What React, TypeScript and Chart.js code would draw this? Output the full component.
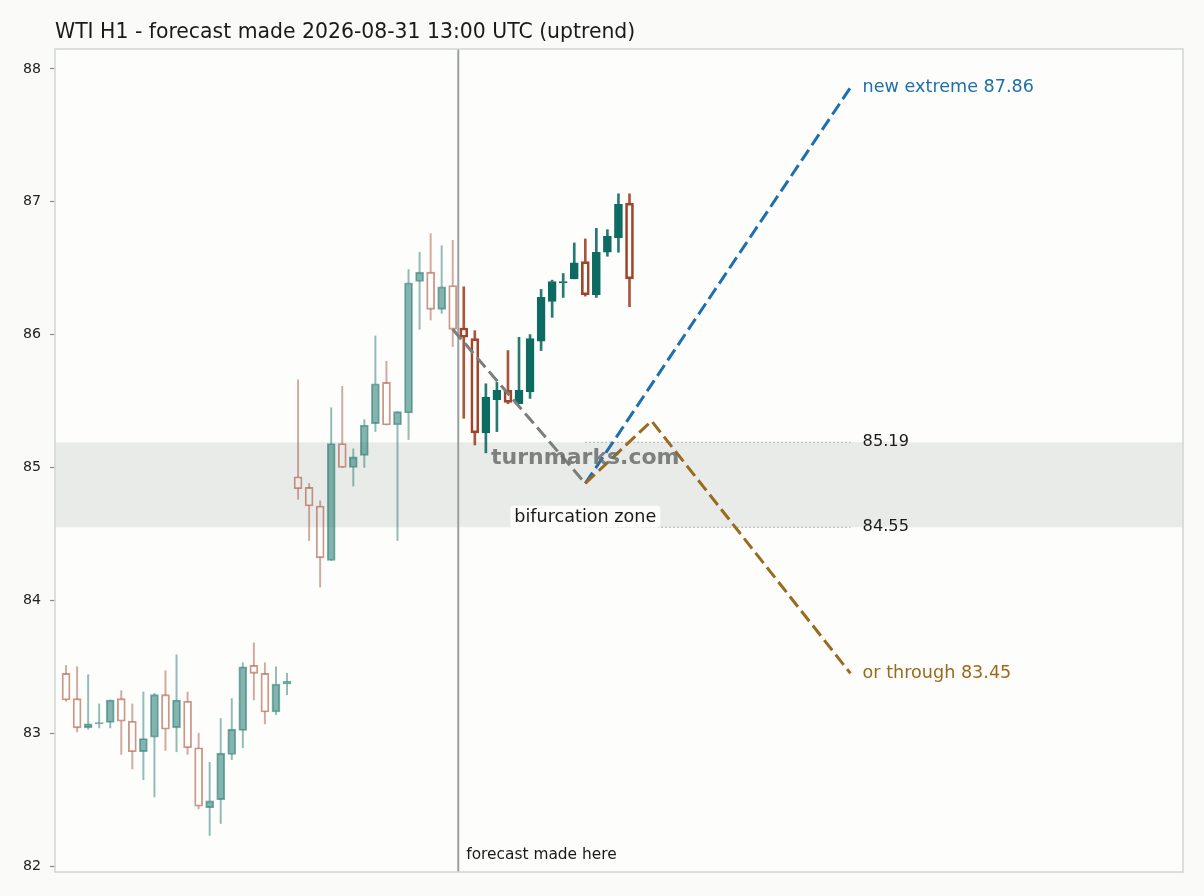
import React, { useEffect, useRef } from 'react';
import { Chart, registerables } from 'chart.js';

Chart.register(...registerables);

const FONT = '"DejaVu Sans", Verdana, sans-serif';

// WTI hourly candles, oldest first (index = bar number)
const candleOpen = [
  83.45, 83.26, 83.04, 83.07, 83.08, 83.26, 83.09, 82.86, 82.97, 83.29,
  83.04, 83.24, 82.89, 82.44, 82.5, 82.84, 83.02, 83.51, 83.45, 83.16,
  83.37, 84.93, 84.85, 84.71, 84.3, 85.18, 85.0, 85.09, 85.33, 85.64,
  85.32, 85.41, 86.4, 86.47, 86.19, 86.37, 86.05, 85.97, 85.26, 85.51,
  85.58, 85.48, 85.57, 85.95, 86.25, 86.39, 86.42, 86.55, 86.3, 86.62,
  86.73, 86.99,
];
const candleHigh = [
  83.51, 83.5, 83.44, 83.22, 83.25, 83.32, 83.22, 83.31, 83.3, 83.47,
  83.59, 83.31, 83.0, 82.78, 83.11, 83.26, 83.53, 83.68, 83.53, 83.5,
  83.45, 85.66, 84.88, 84.75, 85.45, 85.61, 85.14, 85.36, 85.99, 85.8,
  85.42, 86.49, 86.62, 86.76, 86.67, 86.71, 86.36, 86.03, 85.63, 85.64,
  85.88, 85.98, 86.0, 86.34, 86.41, 86.46, 86.69, 86.72, 86.8, 86.79,
  87.06, 87.06,
];
const candleLow = [
  83.24, 83.01, 83.03, 83.04, 83.04, 82.84, 82.73, 82.65, 82.52, 82.87,
  82.86, 82.84, 82.43, 82.23, 82.32, 82.8, 82.89, 83.25, 83.07, 83.14,
  83.29, 84.76, 84.45, 84.1, 84.3, 85.0, 84.86, 85.0, 85.27, 85.32,
  84.45, 85.21, 86.04, 86.11, 86.16, 85.91, 85.37, 85.17, 85.11, 85.27,
  85.48, 85.48, 85.52, 85.88, 86.13, 86.28, 86.42, 86.29, 86.28, 86.59,
  86.62, 86.21,
];
const candleClose = [
  83.25, 83.04, 83.07, 83.08, 83.25, 83.09, 82.86, 82.96, 83.29, 83.03,
  83.25, 82.89, 82.45, 82.49, 82.85, 83.03, 83.5, 83.45, 83.16, 83.37,
  83.39, 84.84, 84.71, 84.32, 85.18, 85.0, 85.08, 85.32, 85.63, 85.32,
  85.42, 86.39, 86.47, 86.19, 86.36, 86.04, 85.98, 85.26, 85.53, 85.58,
  85.49, 85.58, 85.97, 86.28, 86.4, 86.4, 86.54, 86.3, 86.62, 86.74,
  86.98, 86.42,
];

const forecastAt = 35.5; // bar position of the "forecast made here" line
const firstLiveBar = 36; // candles after the forecast are drawn solid

// forecast paths
const approachX = [35, 47];
const approachY = [86.04, 84.88];
const upX = [47, 71];
const upY = [84.88, 87.86];
const downX = [47, 53, 71];
const downY = [84.88, 85.35, 83.45];

const zoneHigh = 85.19;
const zoneLow = 84.55;
const zoneFrom = 47;
const zoneTo = 71;

const yTicks = [82, 83, 84, 85, 86, 87, 88];

const TEAL = [13, 107, 98];
const RED = [160, 68, 42];
const BLUE = '#1f6fae';
const BROWN = '#9a6a1f';
const GREY = '#7a7e7c';

const rgba = (c: number[], a: number) => `rgba(${c[0]},${c[1]},${c[2]},${a})`;

const path = (xs: number[], ys: number[]) => xs.map((x, i) => ({ x, y: ys[i] }));

function candleSets(from: number, to: number, alpha: number, wickW: number, edgeW: number) {
  const idx = candleOpen.map((_, i) => i).filter((i) => i >= from && i < to);
  const up = (i: number) => candleClose[i] >= candleOpen[i];
  const col = (i: number, a: number) => rgba(up(i) ? TEAL : RED, a);
  const wickColors = idx.map((i) => col(i, alpha * 0.9));
  const common = { type: 'bar' as const, grouped: false, order: 3, borderSkipped: false as const };
  return [
    {
      ...common,
      data: idx.map((i) => ({ x: i, y: [Math.max(candleOpen[i], candleClose[i]), candleHigh[i]] })),
      backgroundColor: wickColors,
      borderWidth: 0,
      barThickness: wickW,
    },
    {
      ...common,
      data: idx.map((i) => ({ x: i, y: [candleLow[i], Math.min(candleOpen[i], candleClose[i])] })),
      backgroundColor: wickColors,
      borderWidth: 0,
      barThickness: wickW,
    },
    {
      ...common,
      data: idx.map((i) => ({ x: i, y: [candleOpen[i], candleClose[i]] })),
      backgroundColor: idx.map((i) => (up(i) ? col(i, alpha) : 'rgba(0,0,0,0)')),
      borderColor: idx.map((i) => col(i, Math.min(1, alpha * 1.1))),
      borderWidth: edgeW,
      barThickness: 8,
    },
  ];
}

const decor = {
  id: 'decor',
  beforeDraw(chart: any) {
    const { ctx, chartArea: a, scales } = chart;
    const x = scales.x;
    const y = scales.y;
    ctx.save();
    ctx.fillStyle = '#fafaf8';
    ctx.fillRect(0, 0, chart.width, chart.height);
    ctx.fillStyle = '#fdfdfc';
    ctx.fillRect(a.left, a.top, a.width, a.height);

    const zt = y.getPixelForValue(zoneHigh);
    const zb = y.getPixelForValue(zoneLow);
    ctx.fillStyle = '#e9ebe9';
    ctx.fillRect(a.left, zt, a.width, zb - zt);

    ctx.strokeStyle = '#9a9a9a';
    ctx.lineWidth = 1.2;
    ctx.setLineDash([1.5, 2.5]);
    for (const v of [zoneHigh, zoneLow]) {
      const py = y.getPixelForValue(v);
      ctx.beginPath();
      ctx.moveTo(x.getPixelForValue(zoneFrom), py);
      ctx.lineTo(x.getPixelForValue(zoneTo), py);
      ctx.stroke();
    }
    ctx.setLineDash([]);

    const fx = x.getPixelForValue(forecastAt);
    ctx.strokeStyle = '#9b9f9d';
    ctx.lineWidth = 2;
    ctx.beginPath();
    ctx.moveTo(fx, a.top);
    ctx.lineTo(fx, a.bottom);
    ctx.stroke();
    ctx.restore();
  },
  afterDatasetsDraw(chart: any) {
    const { ctx, chartArea: a, scales } = chart;
    const x = scales.x;
    const y = scales.y;
    ctx.save();

    // watermark
    ctx.font = `bold 22px ${FONT}`;
    ctx.textAlign = 'center';
    ctx.textBaseline = 'middle';
    ctx.fillStyle = 'rgba(105,109,107,0.85)';
    ctx.fillText('turnmarks.com', x.getPixelForValue(47), y.getPixelForValue(85.07));

    // zone label with box
    ctx.font = `17.6px ${FONT}`;
    const bx = x.getPixelForValue(47);
    const by = y.getPixelForValue(84.63);
    const tw = ctx.measureText('bifurcation zone').width;
    ctx.fillStyle = 'rgba(253,253,252,0.92)';
    ctx.beginPath();
    ctx.roundRect(bx - tw / 2 - 4, by - 11, tw + 8, 22, 3);
    ctx.fill();
    ctx.fillStyle = '#1a1a1a';
    ctx.fillText('bifurcation zone', bx, by + 1);

    // right-hand labels
    ctx.textAlign = 'left';
    const lx = x.getPixelForValue(72.1);
    ctx.font = `16.2px ${FONT}`;
    ctx.fillStyle = '#1a1a1a';
    ctx.fillText(zoneHigh.toFixed(2), lx, y.getPixelForValue(zoneHigh));
    ctx.fillText(zoneLow.toFixed(2), lx, y.getPixelForValue(zoneLow));
    ctx.font = `17.6px ${FONT}`;
    ctx.fillStyle = BLUE;
    ctx.fillText(`new extreme ${upY[1].toFixed(2)}`, lx, y.getPixelForValue(upY[1]));
    ctx.fillStyle = BROWN;
    ctx.fillText(`or through ${downY[2].toFixed(2)}`, lx, y.getPixelForValue(downY[2]));

    ctx.font = `15.4px ${FONT}`;
    ctx.fillStyle = '#1a1a1a';
    ctx.fillText('forecast made here', x.getPixelForValue(forecastAt) + 8, a.bottom - 17);

    // frame
    ctx.strokeStyle = '#d3d8d5';
    ctx.lineWidth = 1.6;
    ctx.strokeRect(a.left, a.top, a.width, a.height);

    // title
    ctx.font = `20.4px ${FONT}`;
    ctx.fillStyle = '#1a1a1a';
    ctx.textBaseline = 'alphabetic';
    ctx.fillText('WTI H1 - forecast made 2026-08-31 13:00 UTC (uptrend)', a.left, 38);
    ctx.restore();
  },
};

const App: React.FC = () => {
  const canvasRef = useRef<HTMLCanvasElement | null>(null);

  useEffect(() => {
    if (!canvasRef.current) return;

    const lineStyle = {
      type: 'line' as const,
      borderWidth: 3,
      borderDash: [13, 5.5],
      borderCapStyle: 'butt' as const,
      pointRadius: 0,
      tension: 0,
      fill: false,
      order: 1,
    };

    const chart = new Chart(canvasRef.current, {
      type: 'bar',
      data: {
        datasets: [
          ...candleSets(0, firstLiveBar, 0.5, 1.3, 1.2),
          ...candleSets(firstLiveBar, candleOpen.length, 1, 2, 2),
          { ...lineStyle, data: path(approachX, approachY), borderColor: GREY },
          { ...lineStyle, data: path(downX, downY), borderColor: BROWN },
          { ...lineStyle, data: path(upX, upY), borderColor: BLUE },
        ] as any,
      },
      options: {
        responsive: false,
        animation: false,
        events: [],
        layout: { padding: { left: 0, top: 49, right: 21, bottom: 24 } },
        plugins: {
          legend: { display: false },
          tooltip: { enabled: false },
          title: { display: false },
        },
        scales: {
          x: {
            type: 'linear',
            display: false,
            offset: false,
            min: -1,
            max: 101.1,
          },
          y: {
            type: 'linear',
            min: 81.955,
            max: 88.15,
            border: { display: false },
            grid: {
              drawOnChartArea: false,
              drawTicks: true,
              tickLength: 5,
              tickColor: '#8a8a8a',
              tickWidth: 1.2,
            },
            ticks: {
              padding: 9,
              color: '#222',
              font: { family: FONT, size: 14.2 },
              callback: (v: any) => String(v),
            },
            afterBuildTicks: (s: any) => {
              s.ticks = yTicks.map((value) => ({ value }));
            },
            afterFit: (s: any) => {
              s.width = 55;
            },
          },
        },
      },
      plugins: [decor],
    });

    return () => chart.destroy();
  }, []);

  return (
    <div style={{ position: 'fixed', left: 0, top: 0, width: 1204, height: 896, background: '#fafaf8' }}>
      <canvas ref={canvasRef} width={1204} height={896} />
    </div>
  );
};

export default App;
